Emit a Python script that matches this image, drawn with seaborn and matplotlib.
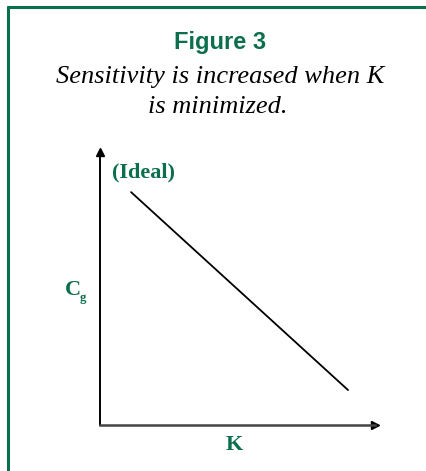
import matplotlib
matplotlib.use("Agg")
import matplotlib.pyplot as plt
import seaborn as sns
import pandas as pd

# values (axes run 0..1 with no ticks)
k_values = [0.113, 0.902]
cg_values = [0.853, 0.128]

title = "Figure 3"
subtitle_lines = ["Sensitivity is increased when K", "is minimized."]
green = "#0b6e4c"

sns.set_theme(style="white")
plt.rcParams["font.family"] = ["Liberation Serif", "DejaVu Serif"]

W, H = 427, 471
fig = plt.figure(figsize=(W / 100, H / 100), dpi=100)
fig.patch.set_facecolor("white")

# axes box in pixels: x 100..375, y 152..425 (from top)
ax = fig.add_axes([100 / W, (H - 425) / H, 275 / W, 273 / H])
df = pd.DataFrame({"K": k_values, "Cg": cg_values})
sns.lineplot(data=df, x="K", y="Cg", ax=ax, color="black", linewidth=1.3)
ax.set_xlim(0, 1)
ax.set_ylim(0, 1)
ax.set_xticks([])
ax.set_yticks([])
ax.set_xlabel("")
ax.set_ylabel("")
ax.set_facecolor("none")
for s in ["top", "right"]:
    ax.spines[s].set_visible(False)
ax.spines["left"].set_color("black")
ax.spines["left"].set_linewidth(1.4)
ax.spines["bottom"].set_color("#444444")
ax.spines["bottom"].set_linewidth(1.8)
# arrow heads
ax.plot(1, 0, ">", color="black", markersize=6, transform=ax.transAxes, clip_on=False)
ax.plot(0, 1, "^", color="black", markersize=6, transform=ax.transAxes, clip_on=False)

# green frame (only top and left edges visible in the crop)
frame_kw = dict(color=green, linewidth=2.2, transform=fig.transFigure, clip_on=False)
fig.add_artist(plt.Line2D([8 / W, 1], [1 - 7 / H, 1 - 7 / H], **frame_kw))
fig.add_artist(plt.Line2D([8 / W, 8 / W], [0, 1 - 7 / H], **frame_kw))

fig.text(220 / W, 1 - 42 / H, title, ha="center", va="center", color=green,
         fontsize=17, fontweight="heavy",
         family=["Liberation Sans Narrow", "Liberation Sans", "DejaVu Sans"])
fig.text(220 / W, 1 - 77 / H, subtitle_lines[0], ha="center", va="center",
         color="black", fontsize=19, style="italic")
fig.text(218 / W, 1 - 107 / H, subtitle_lines[1], ha="center", va="center",
         color="black", fontsize=19, style="italic")

fig.text(112 / W, 1 - 172 / H, "(Ideal)", ha="left", va="center", color=green,
         fontsize=16, fontweight="bold")
fig.text(65 / W, 1 - 290 / H, "C", ha="left", va="center", color=green,
         fontsize=16, fontweight="bold")
fig.text(80 / W, 1 - 298 / H, "g", ha="left", va="center", color=green,
         fontsize=9, fontweight="bold")
fig.text(234 / W, 1 - 445 / H, "K", ha="center", va="center", color=green,
         fontsize=16, fontweight="bold")

fig.savefig("out.png", dpi=100)
